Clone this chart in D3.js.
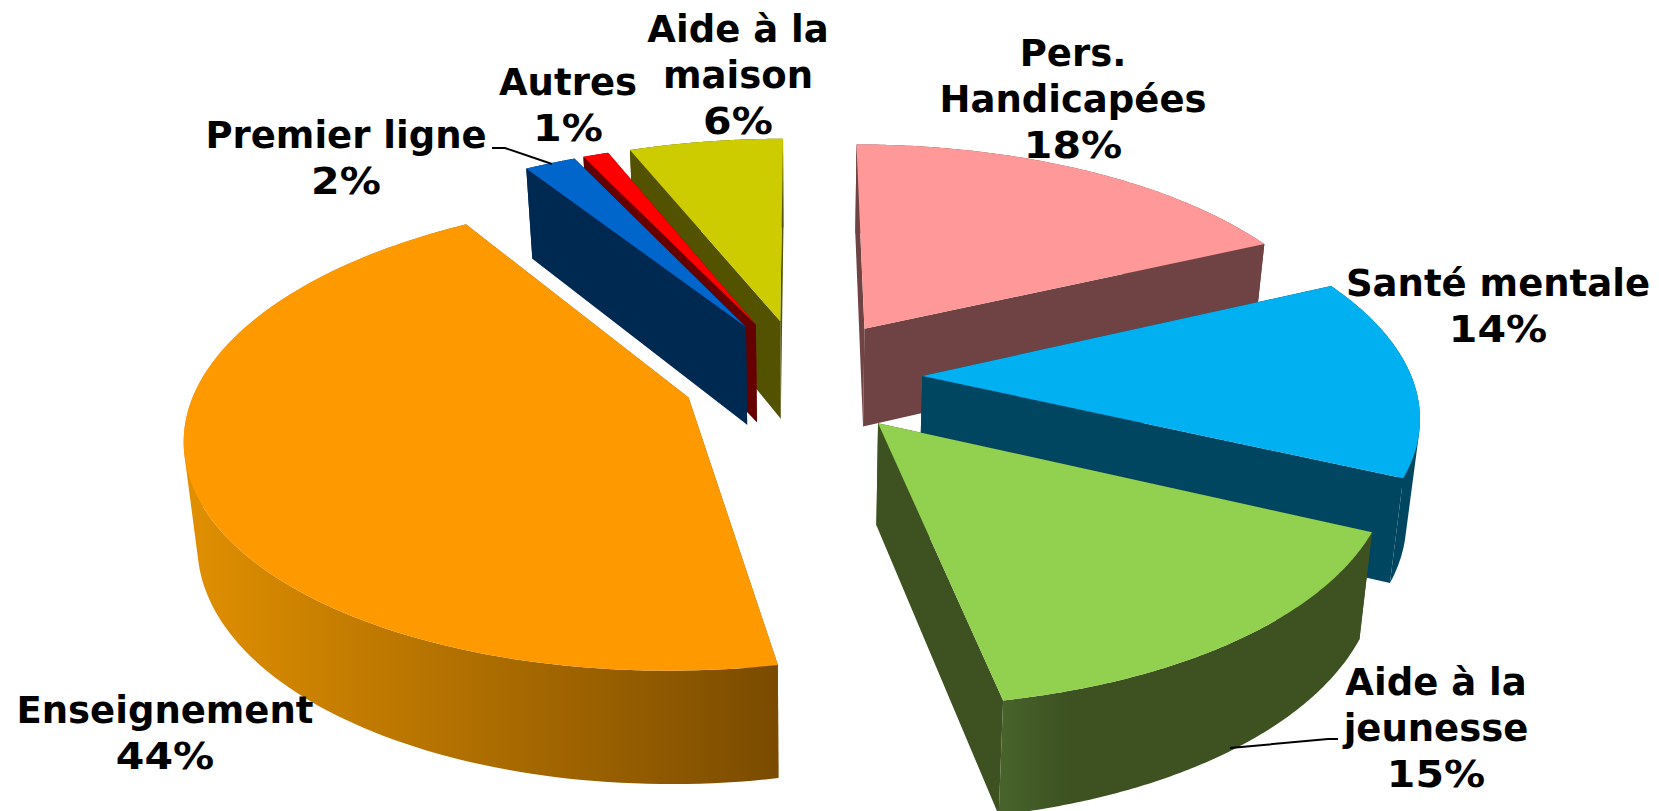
<!DOCTYPE html>
<html>
<head>
<meta charset="utf-8">
<script src="https://cdn.jsdelivr.net/npm/d3@7"></script>
<style>html,body{margin:0;padding:0;background:#fff}svg{display:block}</style>
</head>
<body>
<svg id="c" width="1659" height="811"></svg>
<script>
const categories = ["Pers. Handicapées","Santé mentale","Aide à la jeunesse","Enseignement","Premier ligne","Autres","Aide à la maison"];
const values = [18,14,15,44,2,1,6];
const topColors = ["#ff9999","#00b0f0","#92d050","#ff9900","#0066cc","#ff0000","#cccc00"];
const wallColors = ["#6f4343","#004660","#3d5121","#7a4c00","#002952","#660000","#525200"];
const labelLines = [["Pers.","Handicapées","18%"],["Santé mentale","14%"],["Aide à la","jeunesse","15%"],["Enseignement","44%"],["Premier ligne","2%"],["Autres","1%"],["Aide à la","maison","6%"]];
const labelAnchors = [[1073,66],[1498,296],[1436,695],[165,723],[346,148],[568,95],[738,42]];
const drawOrder = [0,6,5,4,1,3,2];

const W=1659,H=811,cx=802,cy=376,rx=489,ky=225,persp=0.15,depth=100,explode=0.246,explodeY=1.045,shrink=0.978,fs=37,lh=46,pctStretch=1.11;
const svg=d3.select("#c");
const sX=d3.scaleLinear().domain([-1,1]).range([-rx,rx]);
const sY=d3.scaleLinear().domain([-1,1]).range([-ky,ky]);
function proj(X,Y,bottom){
  const s=1/(1-persp*Y);
  let x=sX(X)*s, y=sY(Y)*s;
  if(bottom){ x*=shrink; y+=depth*Math.pow(s,0.7); }
  return [cx+x,cy+y];
}
const pie=d3.pie().sort(null).startAngle(0).endAngle(2*Math.PI);
const arcs=pie(values);
const line=d3.line();
const defs=svg.append("defs");
function grad(id,x1,x2,stops){
  const g=defs.append("linearGradient").attr("id",id).attr("gradientUnits","userSpaceOnUse")
    .attr("x1",x1).attr("x2",x2).attr("y1",0).attr("y2",0);
  stops.forEach(s=>g.append("stop").attr("offset",s[0]).attr("stop-color",s[1]));
  return `url(#${id})`;
}
const bandFill={3:grad("gE",190,790,[[0,"#e08f00"],[1,"#784a00"]]),
                2:grad("gJ",1004,1070,[[0,"#47632b"],[1,"#3d5121"]])};
drawOrder.forEach(i=>{
  const a=arcs[i], mid=(a.startAngle+a.endAngle)/2;
  const ox=explode*Math.sin(mid), oy=-explode*explodeY*Math.cos(mid);
  const angles=d3.range(0,121).map(k=>a.startAngle+(a.endAngle-a.startAngle)*k/120);
  const P=(t,b)=>proj(ox+Math.sin(t),oy-Math.cos(t),b);
  const apexT=proj(ox,oy,false), apexB=proj(ox,oy,true);
  const g=svg.append("g");
  [a.startAngle,a.endAngle].forEach(t=>{
    g.append("path").attr("d",line([apexT,P(t,false),P(t,true),apexB])+"Z").attr("fill",wallColors[i]);
  });
  // outer wall: consecutive quads with one orientation, so the silhouette fills
  const quads=d3.pairs(angles).map(([t0,t1])=>{
    const q=[P(t0,false),P(t1,false),P(t1,true),P(t0,true)];
    if(d3.polygonArea(q)<0) q.reverse();
    return line(q)+"Z";
  }).join("");
  g.append("path").attr("d",quads).attr("fill",bandFill[i]||wallColors[i]);
  const top=[apexT].concat(angles.map(t=>P(t,false)));
  g.append("path").attr("d",line(top)+"Z").attr("fill",topColors[i]);
});
const leaders=[[[492,148],[505,148],[552,164]],[[1230,748],[1328,739],[1338,739]]];
leaders.forEach(l=>svg.append("path").attr("d",line(l)).attr("fill","none").attr("stroke","#000").attr("stroke-width",2));
labelLines.forEach((ls,i)=>{
  ls.forEach((s,j)=>{
    const t=svg.append("text").attr("font-family","'DejaVu Sans'").attr("font-weight","bold").attr("font-size",fs)
      .attr("text-anchor","middle").attr("fill","#000")
      .attr("x",labelAnchors[i][0]).attr("y",labelAnchors[i][1]+j*lh).text(s);
    if(s.endsWith("%")){
      t.attr("textLength",t.node().getComputedTextLength()*pctStretch).attr("lengthAdjust","spacingAndGlyphs");
    }
  });
});
</script>
</body>
</html>
